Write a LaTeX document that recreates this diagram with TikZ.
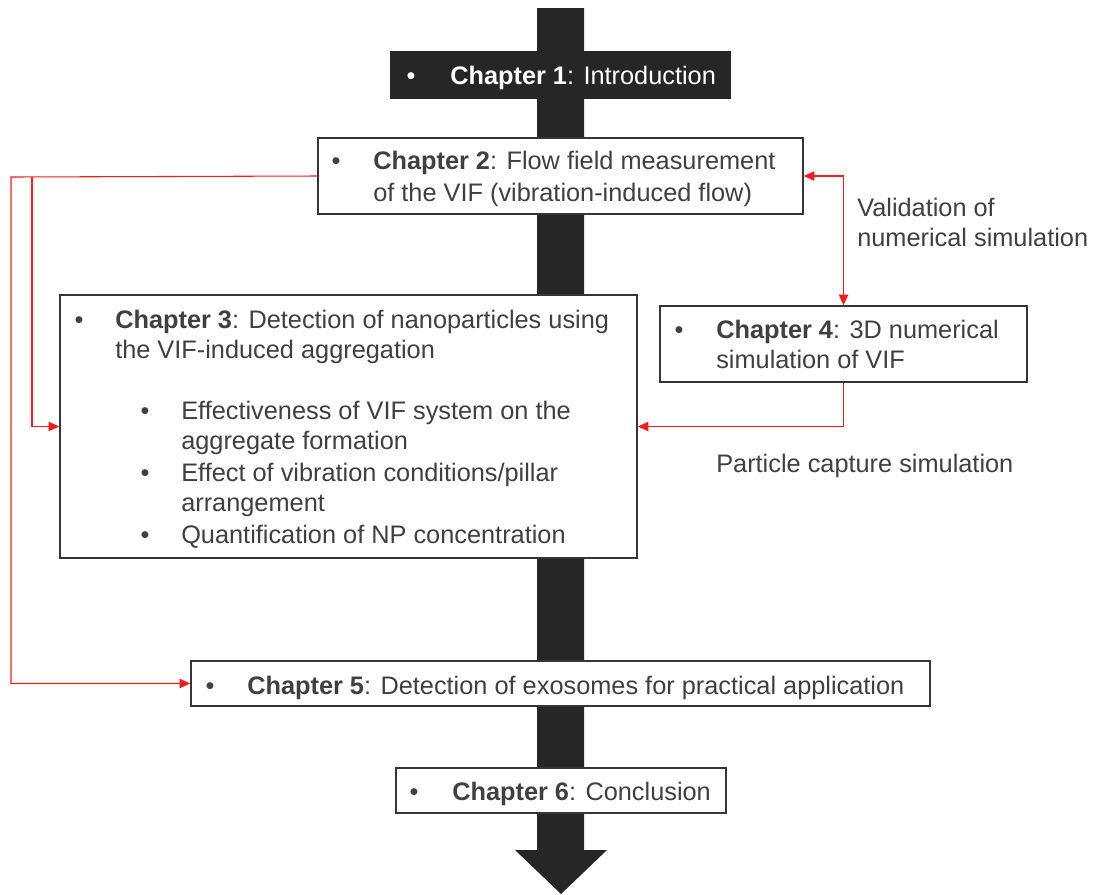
\documentclass[tikz,border=0pt]{standalone}
\usepackage{fontspec}
\setmainfont{Liberation Sans}
\usetikzlibrary{arrows.meta,fit}
\definecolor{txtgray}{HTML}{404040}
\definecolor{boxgray}{HTML}{363636}
\definecolor{shaft}{HTML}{262626}
\definecolor{redl}{HTML}{FF1A1A}
\tikzset{
  chbox/.style={draw=boxgray, line width=1.1pt, fill=white, inner sep=0pt},
  txt/.style={anchor=base west, inner sep=0pt, text=txtgray, font=\fontsize{19}{23}\selectfont, align=left},
  bul/.style={anchor=base, inner sep=0pt, text=txtgray, font=\fontsize{19}{23}\selectfont},
  link/.style={draw=redl, line width=0.8pt},
  tip/.style={-{Triangle[length=8pt,width=7pt]}}
}
\begin{document}
\begin{tikzpicture}[x=0.75pt,y=-0.75pt]
\useasboundingbox (0,0) rectangle (1097,894);
% big arrow
\fill[shaft] (537,8) -- (584,8) -- (584,850) -- (607,850) -- (561,894) -- (515,850) -- (537,850) -- cycle;
% boxes
\node[chbox, fill=shaft, draw=shaft, fit={(391,52)(730,98)}] (ch1) {};
\node[chbox, fit={(318,138)(803,214)}] (ch2) {};
\node[chbox, fit={(60,295)(637,558)}] (ch3) {};
\node[chbox, fit={(660,306)(1027,382)}] (ch4) {};
\node[chbox, fit={(191,661)(930,706)}] (ch5) {};
\node[chbox, fit={(396,768)(726,813)}] (ch6) {};
% texts (multi-line nodes are placed by the baseline of their last line)
\node[bul, text=white] (b1) at (411,84) {•};
\node[txt, text=white] (t1) at (450,84) {\textbf{Chapter 1}: Introduction};
\node[bul] (b2) at (336,169) {•};
\node[txt, font=\fontsize{19}{24}\selectfont] (t2) at (373,201) {\textbf{Chapter 2}: Flow field measurement\\of the VIF (vibration-induced flow)};
\node[bul] (b3) at (79,328) {•};
\node[txt] (t3) at (115,358.7) {\textbf{Chapter 3}: Detection of nanoparticles using\\the VIF-induced aggregation};
\node[bul] (b3a) at (145,419) {•};
\node[txt] (t3a) at (181,449.7) {Effectiveness of VIF system on the\\aggregate formation};
\node[bul] (b3b) at (145,481) {•};
\node[txt] (t3b) at (181,511.7) {Effect of vibration conditions/pillar\\arrangement};
\node[bul] (b3c) at (145,543) {•};
\node[txt] (t3c) at (181,543) {Quantification of NP concentration};
\node[bul] (b4) at (679,338) {•};
\node[txt] (t4) at (716,368.7) {\textbf{Chapter 4}: 3D numerical\\simulation of VIF};
\node[bul] (b5) at (210,694) {•};
\node[txt] (t5) at (247,694) {\textbf{Chapter 5}: Detection of exosomes for practical application};
\node[bul] (b6) at (414,800) {•};
\node[txt] (t6) at (452,800) {\textbf{Chapter 6}: Conclusion};
\node[txt] (lv) at (857,246.7) {Validation of\\numerical simulation};
\node[txt] (lp) at (716,472) {Particle capture simulation};
% connectors
\coordinate (lf) at (11,177);
\coordinate (lj) at (32,177);
\draw[link, tip] (ch2.west) -- (lf) |- (ch5.west);
\draw[link, tip] (lj) |- (ch3.west);
\draw[link, {Triangle[length=8pt,width=7pt]}-{Triangle[length=8pt,width=7pt]}] (ch2.east) -| (ch4.north);
\draw[link, tip] (ch4.south) |- (ch3.east);
\end{tikzpicture}
\end{document}
